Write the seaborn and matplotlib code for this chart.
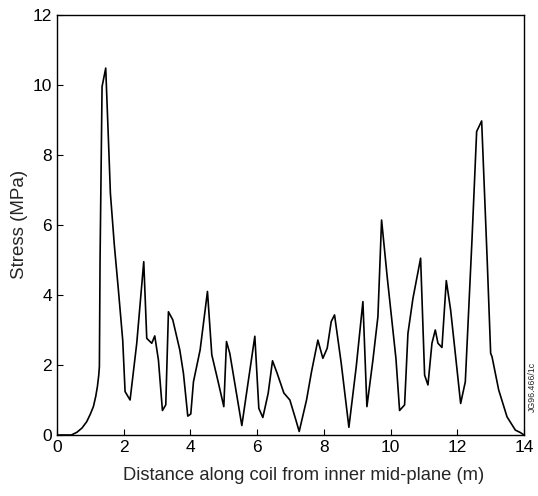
import numpy as np
import pandas as pd
import seaborn as sns
import matplotlib.pyplot as plt

# distance along coil (m) and stress (MPa)
distance = [0.0, 0.43, 0.6, 0.75, 0.89, 1.0, 1.09, 1.16, 1.21, 1.25, 1.27, 1.29,
            1.35, 1.46, 1.56, 1.60, 1.72, 1.84, 1.97, 2.04, 2.19, 2.39, 2.60, 2.69,
            2.84, 2.93, 3.04, 3.16, 3.26, 3.34, 3.47, 3.68, 3.79, 3.92, 4.01, 4.09,
            4.29, 4.51, 4.64, 4.84, 5.00, 5.08, 5.18, 5.54, 5.93, 6.05, 6.17, 6.33,
            6.46, 6.60, 6.80, 6.98, 7.16, 7.26, 7.48, 7.63, 7.82, 7.97, 8.10, 8.22,
            8.32, 8.52, 8.75, 8.97, 9.17, 9.29, 9.47, 9.62, 9.73, 9.90, 10.16, 10.27,
            10.42, 10.52, 10.67, 10.90, 11.02, 11.12, 11.24, 11.34, 11.42, 11.54,
            11.67, 11.80, 11.94, 12.10, 12.24, 12.44, 12.58, 12.73, 12.90, 13.00,
            13.04, 13.24, 13.49, 13.74, 13.89, 14.0]
stress = [0.0, 0.0, 0.08, 0.2, 0.38, 0.6, 0.81, 1.1, 1.38, 1.7, 1.95, 5.0,
          9.95, 10.48, 7.95, 6.9, 5.4, 4.14, 2.7, 1.24, 1.0, 2.62, 4.95, 2.76,
          2.62, 2.83, 2.14, 0.7, 0.86, 3.52, 3.29, 2.43, 1.76, 0.54, 0.6, 1.52,
          2.43, 4.1, 2.29, 1.48, 0.81, 2.67, 2.33, 0.27, 2.82, 0.76, 0.5, 1.19,
          2.12, 1.76, 1.2, 1.0, 0.43, 0.1, 1.0, 1.81, 2.71, 2.19, 2.48, 3.24,
          3.43, 2.05, 0.22, 1.95, 3.81, 0.81, 2.14, 3.38, 6.14, 4.5, 2.19, 0.7,
          0.86, 2.9, 3.9, 5.05, 1.71, 1.43, 2.62, 3.0, 2.62, 2.5,
          4.41, 3.57, 2.33, 0.9, 1.52, 5.57, 8.67, 8.97, 4.9, 2.33,
          2.24, 1.29, 0.52, 0.14, 0.07, 0.0]

xticks = [0, 2, 4, 6, 8, 10, 12, 14]
yticks = [0, 2, 4, 6, 8, 10, 12]

df = pd.DataFrame({"distance": distance, "stress": stress})

sns.set_theme(style="ticks")
plt.rcParams['font.family'] = ['Liberation Sans', 'DejaVu Sans']

fig = plt.figure(figsize=(5.38, 4.96), dpi=100)
ax = fig.add_axes([0.106, 0.123, 0.868, 0.847])

sns.lineplot(data=df, x="distance", y="stress", ax=ax, color="black",
             linewidth=1.2, sort=False)

ax.set_xlim(0, 14)
ax.set_ylim(0, 12)
ax.set_xticks(xticks)
ax.set_yticks(yticks)
ax.tick_params(direction="in", length=4, width=0.8, labelsize=12.5, colors="black",
               top=False, right=False)
for s in ax.spines.values():
    s.set_color("black")
    s.set_linewidth(1.0)

ax.set_xlabel("Distance along coil from inner mid-plane (m)", fontsize=13.2)
ax.set_ylabel("Stress (MPa)", fontsize=13.5)
ax.xaxis.set_label_coords(0.529, -0.075)
ax.yaxis.set_label_coords(-0.062, 0.5)

fig.text(0.99, 0.22, "JG96.466/1c", rotation=90, fontsize=6.3, ha="center", va="center")

fig.savefig("out.png", dpi=100)
